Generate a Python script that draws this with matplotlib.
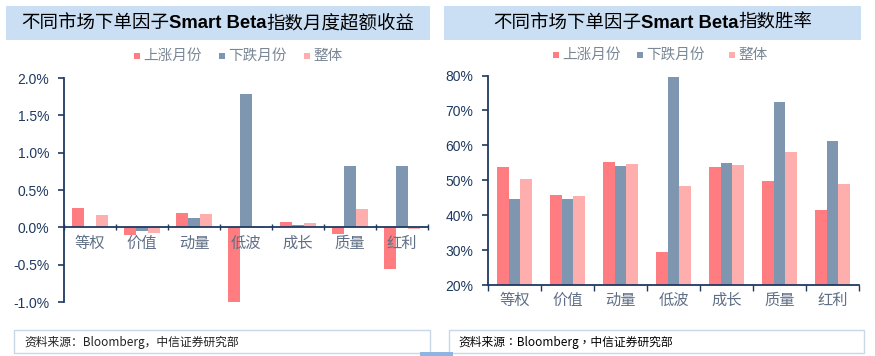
import matplotlib
matplotlib.use('Agg')
import matplotlib.pyplot as plt
from matplotlib.patches import Rectangle
import numpy as np

# ---------------- data ----------------
categories = ['等权', '价值', '动量', '低波', '成长', '质量', '红利']
series_names = ['上涨月份', '下跌月份', '整体']
excess_up = [0.26, -0.10, 0.19, -1.01, 0.07, -0.09, -0.555]
excess_down = [0.01, -0.045, 0.13, 1.79, 0.035, 0.82, 0.82]
excess_all = [0.165, -0.08, 0.18, -0.005, 0.06, 0.25, -0.027]
win_up = [53.8, 45.9, 55.2, 29.4, 53.9, 49.8, 41.6]
win_down = [44.7, 44.7, 54.2, 79.7, 55.0, 72.5, 61.3]
win_all = [50.4, 45.6, 54.7, 48.4, 54.4, 58.2, 49.0]
excess_ticks = [-1.0, -0.5, 0.0, 0.5, 1.0, 1.5, 2.0]
win_ticks = [20, 30, 40, 50, 60, 70, 80]
title_left = ['不同市场下单因子', 'Smart Beta', '指数月度超额收益']
title_right = ['不同市场下单因子', 'Smart Beta', '指数胜率']
source_text = '资料来源：Bloomberg，中信证券研究部'

colors = ['#FF7C80', '#7F96B0', '#FFAEAE']
navy = '#1F3A60'
cat_color = '#5F6F85'
legend_color = '#7A8795'
title_bg = '#CADFF4'

W, H = 875, 356
fig = plt.figure(figsize=(W / 100, H / 100), dpi=100)
fig.patch.set_facecolor('white')


def fx(x):
    return x / W


def fy(y):
    return 1 - y / H


def rect_px(x0, y0, x1, y1, **kw):
    r = Rectangle((fx(x0), fy(y1)), (x1 - x0) / W, (y1 - y0) / H,
                  transform=fig.transFigure, **kw)
    fig.add_artist(r)
    return r


CJK = ['Noto Sans CJK SC', 'DejaVu Sans']

# title boxes
rect_px(6, 6, 430, 40, facecolor=title_bg, edgecolor='none')
rect_px(444, 6, 861, 40, facecolor=title_bg, edgecolor='none')

# source boxes
rect_px(14, 330, 430, 353, facecolor='white', edgecolor='#C9D7E6', lw=1.0)
rect_px(449, 330, 864, 353, facecolor='white', edgecolor='#C9D7E6', lw=1.0)
rect_px(420, 352, 453, 357, facecolor='#8DB4E2', edgecolor='none')

fig.text(fx(24), fy(342), source_text, fontsize=8.5, family=CJK,
         color='#222222', ha='left', va='center')
fig.text(fx(458), fy(342), source_text, fontsize=8.5,
         family=['Noto Sans CJK TC', 'DejaVu Sans'],
         color='black', ha='left', va='center')


def draw_title(pieces, cx, cy):
    texts = []
    for i, p in enumerate(pieces):
        if i == 1:
            t = fig.text(0, fy(cy), p, fontsize=13.3, family=['Liberation Sans', 'DejaVu Sans'],
                         fontweight='bold', color='black', ha='left', va='center')
        else:
            t = fig.text(0, fy(cy), p, fontsize=13.3, family=CJK,
                         color='black', ha='left', va='center')
        texts.append(t)
    r = fig.canvas.get_renderer()
    widths = [t.get_window_extent(r).width for t in texts]
    x = cx - sum(widths) / 2
    for t, w in zip(texts, widths):
        t.set_x(fx(x))
        x += w


draw_title(title_left, 218, 23)
draw_title(title_right, 652.5, 23)


def draw_legend(xs, y):
    for i, (x, name) in enumerate(zip(xs, series_names)):
        rect_px(x - 3, y - 3, x + 3, y + 3, facecolor=colors[i], edgecolor='none')
        fig.text(fx(x + 6), fy(y), name, fontsize=10.5, family=CJK,
                 color=legend_color, ha='left', va='center')


draw_legend([137, 222, 307], 56)
draw_legend([556, 640, 732], 55)


def setup_axes(ax, ylim, yticks, fmt, zero_axis, label_pad, tick_dir):
    ax.set_xlim(0, 7)
    ax.set_ylim(*ylim)
    ax.set_axisbelow(False)
    for s in ['top', 'right']:
        ax.spines[s].set_visible(False)
    ax.spines['left'].set_color(navy)
    ax.spines['left'].set_linewidth(1.3)
    ax.spines['bottom'].set_color(navy)
    ax.spines['bottom'].set_linewidth(1.3)
    if zero_axis:
        ax.spines['bottom'].set_position(('data', 0))
    ax.set_yticks(yticks)
    ax.set_yticklabels([fmt(v) for v in yticks], family=['Liberation Sans', 'DejaVu Sans'],
                       fontsize=10, color=navy)
    ax.tick_params(axis='y', direction='out', length=4, width=1.2, color=navy, pad=6.5)
    ax.set_xticks(np.arange(0, 8))
    ax.set_xticklabels([])
    ax.tick_params(axis='x', which='major', direction=tick_dir, length=4, width=1.0, color=navy)
    ax.set_xticks(np.arange(7) + 0.5, minor=True)
    ax.set_xticklabels(categories, minor=True, family=CJK, fontsize=11, color=cat_color)
    ax.tick_params(axis='x', which='minor', length=0, pad=label_pad)
    ax.patch.set_alpha(0)


def draw_bars(ax, series):
    x = np.arange(len(categories)) + 0.5
    bw = 0.225
    for i, vals in enumerate(series):
        ax.bar(x + (i - 1) * bw, vals, width=bw, color=colors[i], edgecolor='none', zorder=2)


ax1 = fig.add_axes([fx(64), fy(302), (428 - 64) / W, (302 - 78) / H])
draw_bars(ax1, [excess_up, excess_down, excess_all])
setup_axes(ax1, (-1.0, 2.0), excess_ticks, lambda v: f'{v:.1f}%', True, 5.5, 'inout')

ax2 = fig.add_axes([fx(488), fy(285.3), (859 - 488) / W, (285.3 - 75.5) / H])
draw_bars(ax2, [win_up, win_down, win_all])
setup_axes(ax2, (20, 80), win_ticks, lambda v: f'{v:d}%', False, 5.0, 'out')

fig.savefig('out.png', dpi=100)
